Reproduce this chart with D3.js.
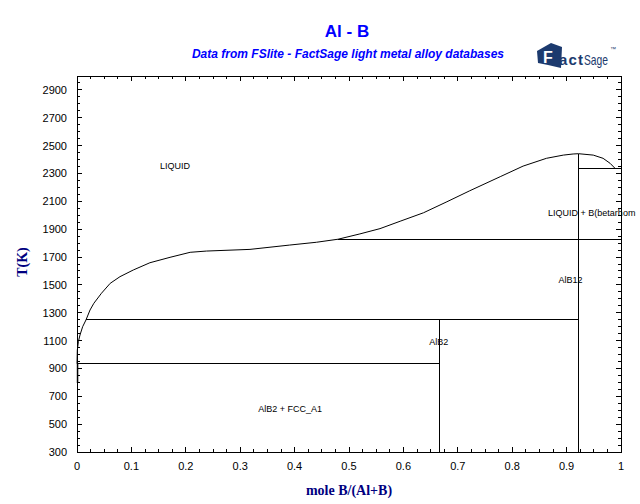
<!DOCTYPE html>
<html>
<head>
<meta charset="utf-8">
<script src="https://cdn.jsdelivr.net/npm/d3@7"></script>
<style>
  html, body { margin: 0; padding: 0; background: #fff; }
  svg { display: block; }
</style>
</head>
<body>
<svg id="chart" width="640" height="504"></svg>
<script>
// ---------- DATA ----------
const title = "Al - B";
const subtitle = "Data from FSlite - FactSage light metal alloy databases";
const xLabel = "mole B/(Al+B)";
const yLabel = "T(K)";

// liquidus, Al-rich side up to the AlB12 congruent maximum
const liqLeftX = [0.0, 0.0006, 0.0025, 0.0055, 0.0104, 0.0165, 0.024, 0.031, 0.045, 0.061, 0.079, 0.1035, 0.134, 0.171, 0.208, 0.238, 0.318, 0.391, 0.44, 0.48, 0.52, 0.557, 0.594, 0.637, 0.68, 0.722, 0.778, 0.82, 0.863, 0.894, 0.912, 0.922];
const liqLeftT = [933, 1032, 1092, 1140, 1200, 1248, 1320, 1368, 1440, 1511, 1559, 1607, 1659, 1698, 1734, 1743, 1755, 1786, 1806, 1828, 1866, 1904, 1957, 2018, 2097, 2176, 2277, 2353, 2409, 2432, 2440, 2442];
// liquidus, B-rich side of AlB12
const liqRightX = [0.922, 0.949, 0.967, 0.98, 0.989];
const liqRightT = [2442, 2432, 2409, 2373, 2337];

// solvus of FCC_A1 near pure Al
const solvusX = [0.001, 0.001];
const solvusT = [795, 933];

// invariant (horizontal) lines: [x start, x end, T]
const invXStart = [0.0, 0.0165, 0.48, 0.922];
const invXEnd   = [0.667, 0.922, 1.0, 1.0];
const invT      = [933, 1248, 1828, 2337];

// compound lines: AlB2 and AlB12
const compoundX    = [0.667, 0.922];
const compoundTmin = [300, 300];
const compoundTmax = [1248, 2442];

// phase labels
const phaseNames = ["LIQUID", "LIQUID + B(betarhom", "AlB12", "AlB2", "AlB2 + FCC_A1"];
const phaseX = [0.180, 0.866, 0.907, 0.665, 0.392];
const phaseT = [2335, 1995, 1513, 1070, 590];

// axis ticks
const xMajorTicks = [0, 0.1, 0.2, 0.3, 0.4, 0.5, 0.6, 0.7, 0.8, 0.9, 1];
const yMajorTicks = [300, 500, 700, 900, 1100, 1300, 1500, 1700, 1900, 2100, 2300, 2500, 2700, 2900];

// ---------- DRAW ----------
const svg = d3.select("#chart");
const L = 77, R = 621, T = 76, B = 452;
const x = d3.scaleLinear().domain([0, 1]).range([L, R]);
const y = d3.scaleLinear().domain([300, 3000]).range([B, T]);

const xMinor = d3.range(0, 1.0001, 0.025);
const yMinor = d3.range(300, 3000.1, 50);

const tickFont = "'Liberation Sans', Arial, sans-serif";

// ticks
const g = svg.append("g").attr("shape-rendering", "crispEdges").attr("stroke", "#000").attr("stroke-width", 1);
xMinor.forEach(v => {
  const big = xMajorTicks.some(m => Math.abs(m - v) < 1e-6);
  const len = big ? 5 : 3;
  g.append("line").attr("x1", x(v)).attr("x2", x(v)).attr("y1", B).attr("y2", B - len);
  g.append("line").attr("x1", x(v)).attr("x2", x(v)).attr("y1", T).attr("y2", T + len);
});
yMinor.forEach(v => {
  const big = yMajorTicks.includes(v);
  const len = big ? 5 : 3;
  g.append("line").attr("y1", y(v)).attr("y2", y(v)).attr("x1", L).attr("x2", L + len);
  g.append("line").attr("y1", y(v)).attr("y2", y(v)).attr("x1", R).attr("x2", R - len);
});
// frame
g.append("rect").attr("x", L).attr("y", T).attr("width", R - L).attr("height", B - T).attr("fill", "none");

// tick labels
svg.append("g").selectAll("text").data(xMajorTicks).join("text")
  .attr("x", d => x(d)).attr("y", 470)
  .attr("text-anchor", "middle")
  .attr("font-family", tickFont).attr("font-size", 11)
  .text(d => d3.format("")(d));
svg.append("g").selectAll("text").data(yMajorTicks).join("text")
  .attr("x", 67).attr("y", d => y(d) + 4)
  .attr("text-anchor", "end")
  .attr("font-family", tickFont).attr("font-size", 11)
  .text(d => d);

// phase boundaries
const line = d3.line().x(d => x(d[0])).y(d => y(d[1]));
const pl = svg.append("g").attr("fill", "none").attr("stroke", "#000").attr("stroke-width", 1);
pl.append("path").attr("d", line(d3.zip(liqLeftX, liqLeftT)));
pl.append("path").attr("d", line(d3.zip(liqRightX, liqRightT)));
pl.append("path").attr("d", line(d3.zip(solvusX, solvusT))).attr("stroke-width", 1.5);
invT.forEach((t, i) => {
  pl.append("path").attr("shape-rendering", "crispEdges")
    .attr("d", line([[invXStart[i], t], [invXEnd[i], t]]));
});
compoundX.forEach((cx, i) => {
  pl.append("path").attr("shape-rendering", "crispEdges")
    .attr("d", line([[cx, compoundTmin[i]], [cx, compoundTmax[i]]]));
});

// phase labels
svg.append("g").selectAll("text").data(phaseNames).join("text")
  .attr("x", (d, i) => x(phaseX[i])).attr("y", (d, i) => y(phaseT[i]))
  .attr("text-anchor", (d, i) => i === 1 ? "start" : "middle")
  .attr("font-family", tickFont).attr("font-size", 9)
  .text(d => d);

// titles
svg.append("text").attr("x", 347).attr("y", 37).attr("text-anchor", "middle")
  .attr("font-family", "'Liberation Sans', Arial, sans-serif").attr("font-weight", "bold")
  .attr("font-size", 17).attr("fill", "#0000ff").text(title);
svg.append("text").attr("x", 348).attr("y", 58).attr("text-anchor", "middle")
  .attr("font-family", "'Liberation Sans', Arial, sans-serif").attr("font-weight", "bold")
  .attr("font-style", "italic").attr("font-size", 12).attr("fill", "#0000ff").text(subtitle);

// axis titles
svg.append("text").attr("x", 349).attr("y", 495).attr("text-anchor", "middle")
  .attr("font-family", "'Liberation Serif', 'Times New Roman', serif").attr("font-weight", "bold")
  .attr("font-size", 14).attr("fill", "#000080").text(xLabel);
svg.append("text").attr("transform", "translate(27,262) rotate(-90)").attr("text-anchor", "middle")
  .attr("font-family", "'Liberation Serif', 'Times New Roman', serif").attr("font-weight", "bold")
  .attr("font-size", 14).attr("fill", "#000080").text(yLabel);

// FactSage logo (approximation)
const logo = svg.append("g").attr("fill", "#1c3a6e");
logo.append("path").attr("d", "M537,51 L551,43 L562,47 L561,68 L548,65 L538,63 Z");
logo.append("text").attr("x", 543).attr("y", 63).attr("fill", "#fff")
  .attr("font-family", "'Liberation Sans', Arial, sans-serif").attr("font-weight", "bold")
  .attr("font-size", 16).text("F");
logo.append("text").attr("x", 559).attr("y", 65)
  .attr("font-family", "'Liberation Sans', Arial, sans-serif").attr("font-weight", "bold")
  .attr("font-size", 15).attr("textLength", 24).text("act");
logo.append("text").attr("x", 584).attr("y", 65)
  .attr("font-family", "'Liberation Sans Narrow', 'Liberation Sans', Arial, sans-serif")
  .attr("font-size", 15).attr("textLength", 24).attr("lengthAdjust", "spacingAndGlyphs").text("Sage");
logo.append("text").attr("x", 610).attr("y", 51)
  .attr("font-family", "'Liberation Sans', Arial, sans-serif")
  .attr("font-size", 6).text("™");
</script>
</body>
</html>
